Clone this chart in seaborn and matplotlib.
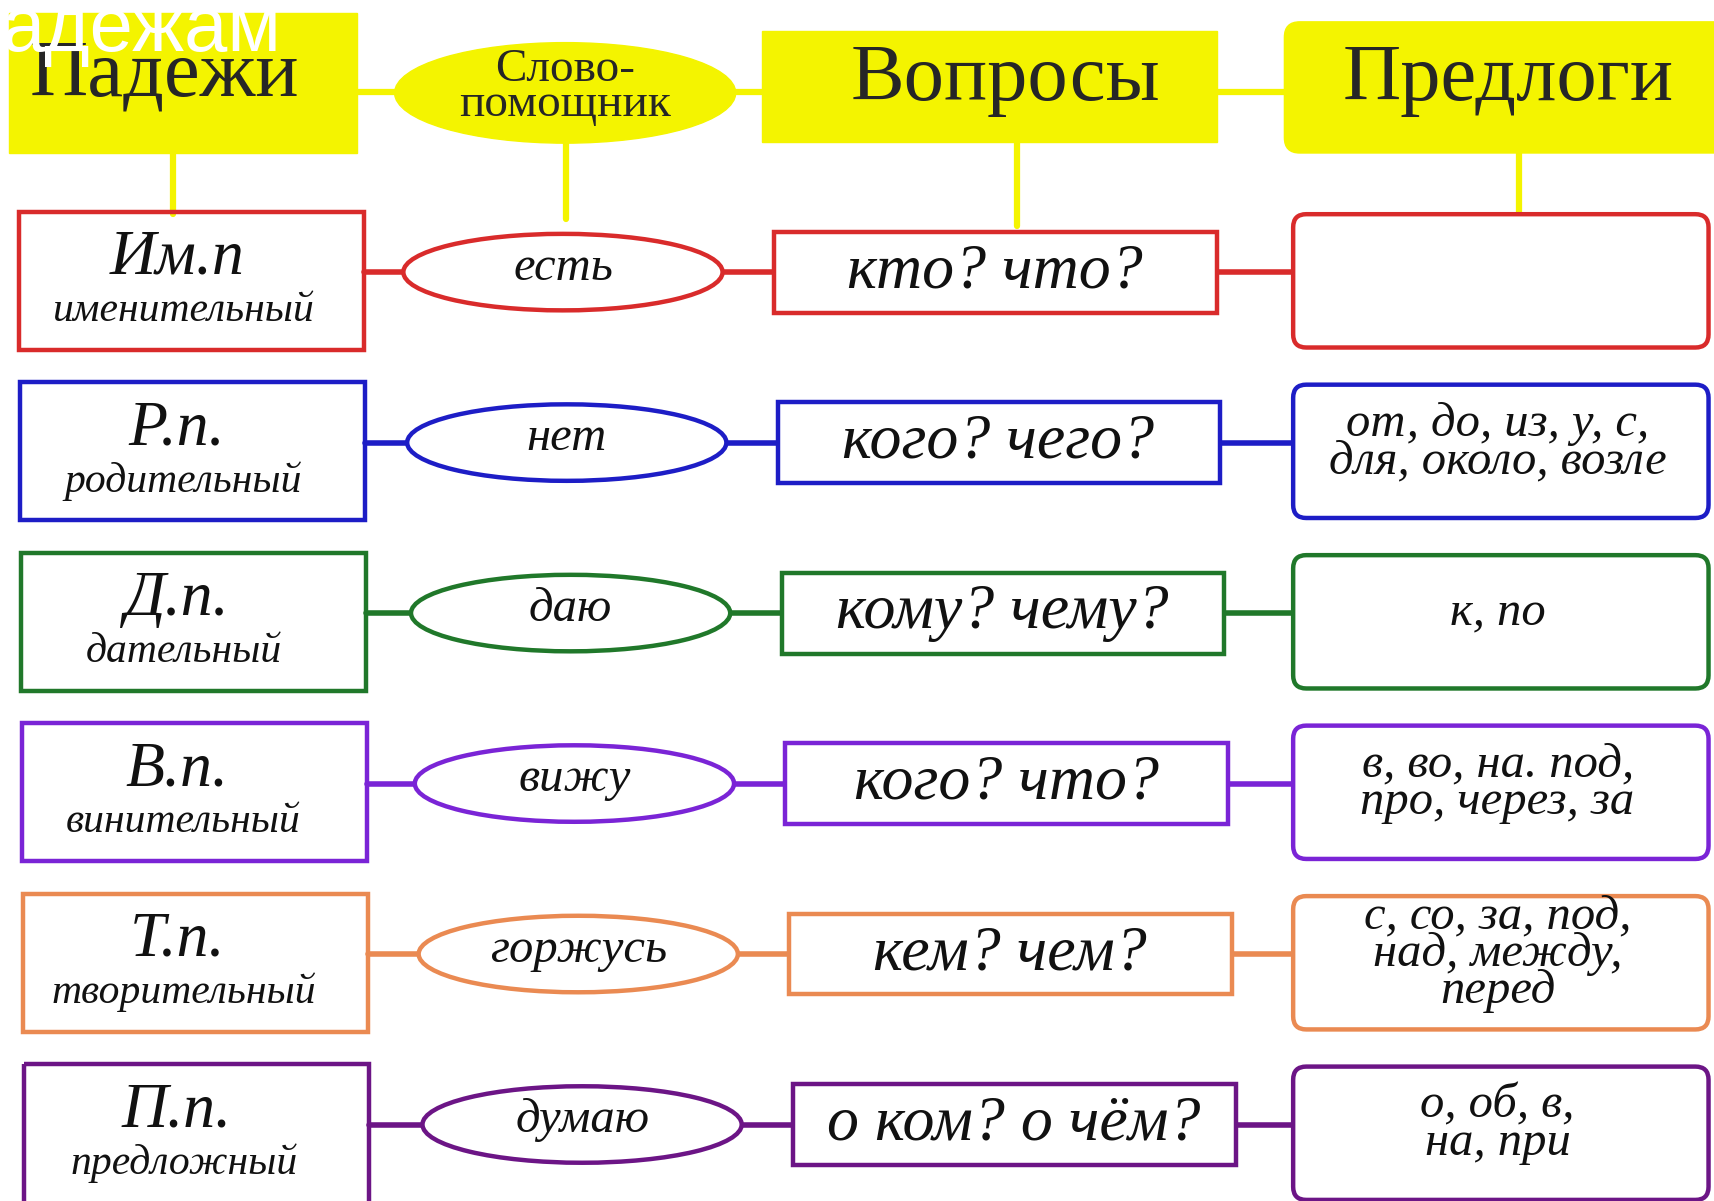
import matplotlib
matplotlib.use("Agg")
import matplotlib.pyplot as plt
from matplotlib.patches import Rectangle, Ellipse, FancyBboxPatch
import seaborn as sns

# ------- Table content -------
headers = ["Падежи", "Слово-\nпомощник", "Вопросы", "Предлоги"]
case_abbr = ["Им.п", "Р.п.", "Д.п.", "В.п.", "Т.п.", "П.п."]
case_names = ["именительный", "родительный", "дательный",
              "винительный", "творительный", "предложный"]
helper_words = ["есть", "нет", "даю", "вижу", "горжусь", "думаю"]
questions = ["кто? что?", "кого? чего?", "кому? чему?",
             "кого? что?", "кем? чем?", "о ком? о чём?"]
prepositions = ["",
                "от, до, из, у, с,\nдля, около, возле",
                "к, по",
                "в, во, на. под,\nпро, через, за",
                "с, со, за, под,\nнад, между,\nперед",
                "о, об, в,\nна, при"]
overlay_text = "адежам"

row_colors = ["#d92b2b", "#1d1dc6", "#20782a", "#7a24d6", "#ea8a52", "#6c1586"]
YELLOW = "#f4f400"

sns.set_style("white")
plt.rcParams["font.family"] = ["Liberation Serif", "DejaVu Serif"]

fig = plt.figure(figsize=(17.14, 12.01), dpi=100)
ax = fig.add_axes([0, 0, 1, 1])
ax.set_xlim(0, 1568)
ax.set_ylim(1099, 0)
ax.axis("off")

LW = 3.2
ITAL = dict(family=["Liberation Serif", "DejaVu Serif"], style="italic",
            ha="center", va="center", color="#111111")

# ------- Header row -------
ax.plot([327, 1180], [84, 84], color=YELLOW, lw=4.5, zorder=1)
for x, y0, y1 in [(158, 140, 196), (518, 130, 200), (930, 130, 207), (1390, 140, 198)]:
    ax.plot([x, x], [y0, y1], color=YELLOW, lw=4.5, zorder=1)

ax.add_patch(Rectangle((8, 12), 319, 128, color=YELLOW, zorder=2))
ax.add_patch(Ellipse((517, 85), 312, 92, color=YELLOW, zorder=2))
ax.add_patch(Rectangle((697, 28), 416, 102, color=YELLOW, zorder=2))
ax.add_patch(FancyBboxPatch((1187, 32), 420, 96, boxstyle="round,pad=12,rounding_size=14",
                            color=YELLOW, zorder=2))

ax.text(150, 70, headers[0], fontsize=58, ha="center", va="center", zorder=5)
ax.text(517, 80, headers[1], fontsize=34, ha="center", va="center",
        linespacing=0.78, zorder=5)
ax.text(920, 74, headers[2], fontsize=58, ha="center", va="center", zorder=5)
ax.text(1380, 74, headers[3], fontsize=58, ha="center", va="center", zorder=5)

ax.text(2, 28, overlay_text, fontsize=56, color="white", ha="left", va="center",
        family=["Liberation Sans", "DejaVu Sans"], zorder=6)

# ------- Case rows -------
for i, c in enumerate(row_colors):
    cy = 257 + 156 * i
    my = cy - 8
    xc = 17 + i            # case box left edge drifts slightly
    xs = 3.5 * i           # helper/question column drift

    # connectors
    ax.plot([xc + 316, 1183], [my, my], color=c, lw=4, zorder=1)

    # case box
    ax.add_patch(Rectangle((xc, cy - 63), 316, 126, fill=False,
                           ec=c, lw=LW, zorder=2))
    ax.text(162, cy - 20, case_abbr[i], fontsize=46, zorder=5, **ITAL)
    ax.text(168, cy + 27, case_names[i], fontsize=30, zorder=5, **ITAL)

    # helper-word ellipse
    ax.add_patch(Ellipse((515 + xs, my), 292, 70, fc="white",
                         ec=c, lw=LW, zorder=2))
    ax.text(515 + xs, my - 4, helper_words[i], fontsize=35, zorder=5, **ITAL)

    # question box
    ax.add_patch(Rectangle((708 + xs, my - 37), 405, 74, fc="white",
                           ec=c, lw=LW, zorder=2))
    ax.text(910 + xs, my, questions[i], fontsize=46, zorder=5, **ITAL)

    # preposition box
    ax.add_patch(FancyBboxPatch((1192, cy - 52), 362, 104,
                                boxstyle="round,pad=9,rounding_size=12",
                                fc="white", ec=c, lw=LW, zorder=2))
    ax.text(1370, cy - 8, prepositions[i], fontsize=35, linespacing=0.8,
            zorder=5, **ITAL)

fig.savefig("out.png", dpi=100, facecolor="white")
